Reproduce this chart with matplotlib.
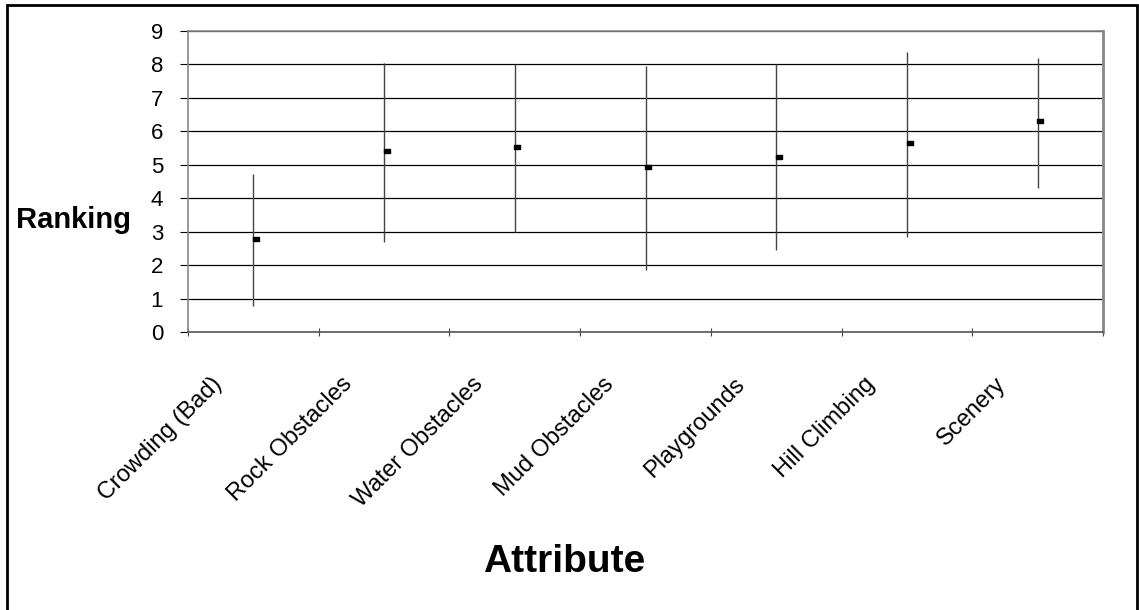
import matplotlib
matplotlib.use("Agg")
import matplotlib.pyplot as plt
from matplotlib.patches import Rectangle
from matplotlib.transforms import ScaledTranslation
import numpy as np

plt.rcParams['font.family'] = ['Liberation Sans', 'DejaVu Sans']

attributes = ["Crowding (Bad)", "Rock Obstacles", "Water Obstacles", "Mud Obstacles",
              "Playgrounds", "Hill Climbing", "Scenery"]
mean_rank = [2.78, 5.41, 5.52, 4.93, 5.22, 5.64, 6.31]
upper = [4.71, 8.05, 8.00, 7.94, 8.00, 8.36, 8.18]
lower = [0.79, 2.69, 2.99, 1.86, 2.46, 2.85, 4.30]

fig = plt.figure(figsize=(11.39, 6.10), dpi=100)
ax = fig.add_axes([188 / 1139, 1 - 332 / 610, 915 / 1139, 301 / 610])

x = np.arange(len(attributes)) + 0.5
ax.vlines(x, lower, upper, color="#444444", linewidth=1.0, zorder=3)
rect = [(-1, -0.6), (1, -0.6), (1, 0.6), (-1, 0.6), (-1, -0.6)]
ax.plot(x + 0.02, mean_rank, linestyle="none", marker=rect, markersize=4,
        color="black", zorder=4)

ax.set_xlim(0, len(attributes))
ax.set_ylim(0, 9)
ax.set_yticks(range(10))
ax.tick_params(axis="y", labelsize=16, length=6, width=0.8, direction="out", pad=12)
ax.set_xticks(np.arange(len(attributes) + 1))
ax.set_xticklabels([])
ax.tick_params(axis="x", length=6, width=0.8, direction="inout", color="#444444")
ax.set_xticks(x, minor=True)
ax.set_xticklabels(attributes, minor=True, rotation=45, ha="right", va="center",
                   rotation_mode="anchor", fontsize=17)
ax.tick_params(axis="x", which="minor", length=0, pad=0)
shift = ScaledTranslation(-0.35, -0.49, fig.dpi_scale_trans)
for lab in ax.get_xticklabels(minor=True):
    lab.set_transform(lab.get_transform() + shift)

ax.yaxis.grid(True, color="black", linewidth=0.9)
ax.set_axisbelow(True)
for side in ["left", "bottom", "top", "right"]:
    ax.spines[side].set_color("#888888")
    ax.spines[side].set_linewidth(1.2)
ax.spines["bottom"].set_color("#555555")
ax.spines["right"].set_linewidth(2)

fig.text(16 / 1139, 1 - 220 / 610, "Ranking", fontsize=21, fontweight="bold",
         va="center", ha="left")
fig.text(564 / 1139, 1 - 562 / 610, "Attribute", fontsize=28, fontweight="bold",
         va="center", ha="center")

fig.add_artist(Rectangle((7 / 1139, -0.02), 1130 / 1139, 1.02 - 5 / 610,
                         transform=fig.transFigure, fill=False,
                         edgecolor="black", linewidth=2))

fig.savefig("out.png", dpi=100)
